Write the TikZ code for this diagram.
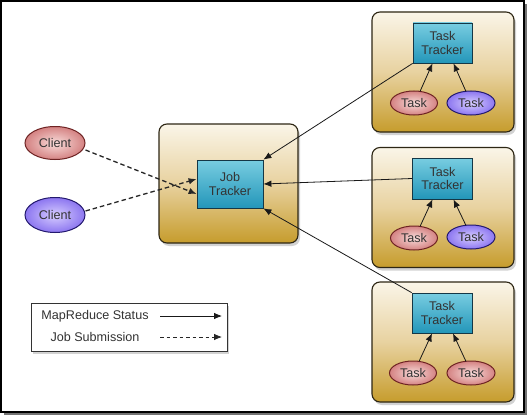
\documentclass[tikz,border=0pt]{standalone}
\usepackage{fontspec}
\setmainfont{Liberation Sans}
\usetikzlibrary{arrows.meta,shadows,shapes.geometric}
\definecolor{cream}{RGB}{250,245,232}
\definecolor{tan}{RGB}{232,210,160}
\definecolor{gold}{RGB}{198,156,44}
\definecolor{contborder}{RGB}{45,38,20}
\definecolor{tealtop}{RGB}{120,205,225}
\definecolor{tealbot}{RGB}{35,150,185}
\definecolor{tealborder}{RGB}{20,55,70}
\definecolor{pinkin}{RGB}{248,220,218}
\definecolor{pinkout}{RGB}{212,130,130}
\definecolor{pinkborder}{RGB}{110,35,35}
\definecolor{purpin}{RGB}{215,205,255}
\definecolor{purpout}{RGB}{140,118,240}
\definecolor{purpborder}{RGB}{35,25,110}
\tikzset{
  container/.style={draw=contborder, line width=1.1pt, rounded corners=8pt,
    top color=cream, bottom color=gold, middle color=tan,
    minimum width=142pt, minimum height=120pt,
    drop shadow={shadow xshift=2pt, shadow yshift=-3pt, opacity=0.35}},
  tracker/.style={draw=tealborder, line width=0.8pt, top color=tealtop, bottom color=tealbot,
    align=center, font=\fontsize{12.6}{13.2}\selectfont, text=black!80,
    inner sep=0pt},
  pinkell/.style={ellipse, draw=pinkborder, line width=1pt, inner color=pinkin, outer color=pinkout,
    font=\fontsize{12.6}{13.2}\selectfont, inner sep=0pt, text=black!80},
  purpell/.style={ellipse, draw=purpborder, line width=1pt, inner color=purpin, outer color=purpout,
    font=\fontsize{12.6}{13.2}\selectfont, inner sep=0pt, text=black!80},
  status/.style={-{Latex[length=8pt,width=6.5pt]}, line width=0.8pt, black!90},
  submit/.style={-{Latex[length=8pt,width=6.5pt]}, line width=1.3pt, dashed, dash pattern=on 4.5pt off 3pt, black!85},
  legendtxt/.style={font=\fontsize{12.6}{13.2}\selectfont, text=black!80, inner sep=0pt}
}
\begin{document}
\begin{tikzpicture}[x=1pt,y=-1pt]
\useasboundingbox (0,0) rectangle (530,420);
% outer frame
\fill[black!55] (4,4) rectangle (527,415);
\fill[white] (0,0) rectangle (524,412);
\draw[black, line width=1.2pt] (1,1) rectangle (524,412);
\draw[black, line width=2pt] (524,3) -- (524,412) -- (3,412);

% containers
\node[container] (jtc) at (228.5,183.5) [minimum width=139pt, minimum height=119pt] {};
\node[container] (ttc1) at (443,72) {};
\node[container] (ttc2) at (443,207.5) {};
\node[container] (ttc3) at (443,342) {};

% trackers
\node[tracker, minimum width=66pt, minimum height=48pt] (jt) at (230,184) {Job\\Tracker};
\node[tracker, minimum width=59pt, minimum height=40pt] (tt1) at (442.5,43) {Task\\Tracker};
\node[tracker, minimum width=60pt, minimum height=41pt] (tt2) at (442.5,178.5) {Task\\Tracker};
\node[tracker, minimum width=60pt, minimum height=40pt] (tt3) at (442,313) {Task\\Tracker};

% tasks
\node[pinkell, minimum width=47pt, minimum height=24pt] (t1a) at (414,103) {Task};
\node[purpell, minimum width=48pt, minimum height=24pt] (t1b) at (471,103) {Task};
\node[pinkell, minimum width=47pt, minimum height=24pt] (t2a) at (414,238) {Task};
\node[purpell, minimum width=48pt, minimum height=24pt] (t2b) at (471,237) {Task};
\node[pinkell, minimum width=47pt, minimum height=24pt] (t3a) at (413,373) {Task};
\node[pinkell, minimum width=48pt, minimum height=24pt] (t3b) at (471,373) {Task};

% clients
\node[pinkell, minimum width=60pt, minimum height=33pt] (c1) at (55,143) {Client};
\node[purpell, minimum width=60pt, minimum height=35pt] (c2) at (55,215) {Client};

% task -> tracker arrows
\foreach \tk/\tr in {t1a/tt1,t2a/tt2,t3a/tt3}{
  \draw[status] (\tk.north) ++(6,1) -- ([xshift=-10pt]\tr.south);
}
\foreach \tk/\tr in {t1b/tt1,t2b/tt2,t3b/tt3}{
  \draw[status] (\tk.north) ++(-5,1) -- ([xshift=11pt]\tr.south);
}

% tracker -> job tracker
\draw[status] (tt1.south west) -- (jt.north east);
\draw[status] (tt2.west) -- (jt.east);
\draw[status] (tt3.north west) -- (jt.south east);

% client -> job tracker
\draw[submit] (c1.east) ++(0,7) -- ([yshift=-10pt]jt.west);
\draw[submit] (c2.east) ++(0,-4) -- ([yshift=5pt]jt.west);

% legend
\node[draw=black!80, fill=white, line width=0.8pt, minimum width=196pt, minimum height=48pt,
  drop shadow={shadow xshift=2pt, shadow yshift=-3pt, opacity=0.35}] (leg) at (129,327) {};
\node[legendtxt] (l1) at (95,316) {MapReduce Status};
\node[legendtxt] (l2) at (95,337) {Job Submission};
\coordinate (l1a) at (160,316);
\coordinate (l1b) at (222,316);
\coordinate (l2a) at (160,337);
\coordinate (l2b) at (222,337);
\draw[status] (l1a) -- (l1b);
\draw[submit, dash pattern=on 3.5pt off 3pt, line width=0.8pt] (l2a) -- (l2b);
\end{tikzpicture}
\end{document}
